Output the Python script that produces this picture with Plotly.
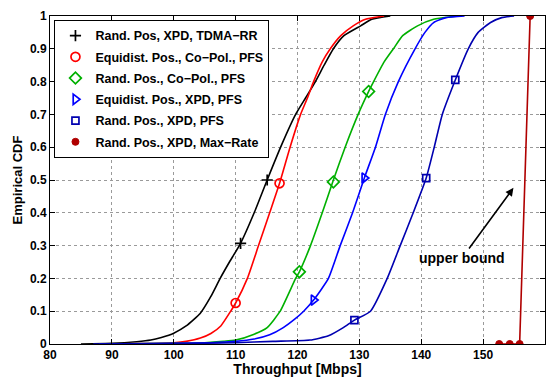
import plotly.graph_objects as go

# ---- data ----
black_x = [85, 90, 94, 96.3, 98, 100, 102, 104.3, 106, 107.5, 109, 110.8, 113, 115.1, 117.5, 119.7, 121.3, 122.9, 124.3, 125.8, 127.5, 130.2, 132, 135]
black_y = [0, 0.002, 0.007, 0.012, 0.02, 0.033, 0.055, 0.094, 0.145, 0.2, 0.25, 0.307, 0.4, 0.5, 0.61, 0.7, 0.75, 0.8, 0.85, 0.9, 0.94, 0.97, 0.99, 1]
black_mx = [110.8, 115.1]
black_my = [0.307, 0.5]

red_x = [88, 95, 100, 102, 104.3, 106, 107.6, 109.2, 110, 111.9, 113.7, 115.5, 117.1, 118.8, 120.5, 121.6, 122.6, 124, 125.3, 127, 129, 131, 134]
red_y = [0, 0.001, 0.004, 0.008, 0.018, 0.032, 0.055, 0.1, 0.125, 0.2, 0.3, 0.4, 0.49, 0.6, 0.7, 0.75, 0.8, 0.86, 0.9, 0.94, 0.97, 0.99, 1]
red_mx = [110.0, 117.1]
red_my = [0.125, 0.49]

green_x = [88, 100, 105, 108, 110, 113, 115.1, 117.2, 119.7, 120.3, 122.1, 124, 125.8, 127.7, 129.8, 131.5, 132.3, 134, 135.5, 137, 139.4, 142, 146]
green_y = [0, 0.002, 0.004, 0.008, 0.012, 0.03, 0.05, 0.1, 0.2, 0.22, 0.3, 0.4, 0.5, 0.6, 0.7, 0.77, 0.8, 0.86, 0.9, 0.94, 0.97, 0.99, 1]
green_mx = [120.3, 125.8, 131.5]
green_my = [0.22, 0.494, 0.77]

blue_x = [88, 100, 106, 110, 113, 115.5, 117.7, 119.5, 121, 122.6, 125, 126.9, 128.9, 130.8, 132.6, 134.2, 136.3, 139, 140.6, 142, 144, 147]
blue_y = [0, 0.002, 0.004, 0.008, 0.015, 0.028, 0.05, 0.075, 0.1, 0.134, 0.2, 0.3, 0.4, 0.506, 0.6, 0.7, 0.8, 0.9, 0.95, 0.98, 0.995, 1]
blue_mx = [122.6, 130.8]
blue_my = [0.134, 0.506]

dblue_x = [87, 100, 110, 116, 122, 125, 127.4, 129.2, 131.8, 134.5, 136.6, 138.7, 140.8, 142.1, 143.4, 145.5, 147.6, 149.2, 151.2, 153, 155]
dblue_y = [0, 0.001, 0.004, 0.008, 0.012, 0.025, 0.05, 0.073, 0.1, 0.2, 0.3, 0.4, 0.506, 0.6, 0.7, 0.805, 0.9, 0.95, 0.98, 0.995, 1]
dblue_mx = [129.2, 140.8, 145.5]
dblue_my = [0.073, 0.506, 0.805]

maxr_x = [152.6, 154.3, 155.9, 157.6]
maxr_y = [0, 0, 0, 1]

names = ["Rand. Pos, XPD, TDMA\u2212RR",
         "Equidist. Pos., Co\u2212Pol., PFS",
         "Rand. Pos., Co\u2212Pol., PFS",
         "Equidist. Pos., XPD, PFS",
         "Rand. Pos., XPD, PFS",
         "Rand. Pos., XPD, Max\u2212Rate"]

x_ticks = [80, 90, 100, 110, 120, 130, 140, 150, 160]
y_ticks = [0, 0.1, 0.2, 0.3, 0.4, 0.5, 0.6, 0.7, 0.8, 0.9, 1]
y_ticklabels = ["0", "0.1", "0.2", "0.3", "0.4", "0.5", "0.6", "0.7", "0.8", "0.9", "1"]

FONT = "Liberation Sans"

fig = go.Figure()

series = [
    (black_x, black_y, black_mx, black_my, "#000000", "cross-thin-open", 8),
    (red_x, red_y, red_mx, red_my, "#ff0000", "circle-open", 9),
    (green_x, green_y, green_mx, green_my, "#00b000", "diamond-open", 9),
    (blue_x, blue_y, blue_mx, blue_my, "#0000ff", "triangle-right-open", 9),
    (dblue_x, dblue_y, dblue_mx, dblue_my, "#0000b0", "square-open", 7),
]

for (lx, ly, mx, my, col, sym, sz), nm in zip(series, names):
    fig.add_trace(go.Scatter(x=lx, y=ly, mode="lines",
                             line=dict(color=col, width=1.6, shape="spline", smoothing=0.5),
                             showlegend=False, hoverinfo="skip"))
for i, ((lx, ly, mx, my, col, sym, sz), nm) in enumerate(zip(series, names)):
    fig.add_trace(go.Scatter(x=mx, y=my, mode="markers", name=nm, legendgroup=f"g{i}",
                             marker=dict(symbol=sym, size=sz, color=col,
                                         line=dict(color=col, width=1.7))))

fig.add_trace(go.Scatter(x=maxr_x, y=maxr_y, mode="lines", line=dict(color="#b00000", width=1.6),
                         showlegend=False, hoverinfo="skip"))
fig.add_trace(go.Scatter(x=maxr_x, y=maxr_y, mode="markers", name=names[5], legendgroup="g5",
                         marker=dict(symbol="circle", size=7, color="#b00000",
                                     line=dict(color="#b00000", width=1))))

fig.add_annotation(x=154.9, y=0.476, ax=146.6, ay=0.262, axref="x", ayref="y",
                   xref="x", yref="y", text="<b>upper bound</b>", showarrow=True,
                   arrowhead=2, arrowsize=1.0, arrowwidth=1.6, arrowcolor="#000000",
                   font=dict(family=FONT, size=14, color="#000000"))

axis_common = dict(showline=True, linecolor="#000000", linewidth=1, mirror="ticks",
                   ticks="inside", ticklen=5, tickcolor="#000000",
                   showgrid=True, gridcolor="#9a9a9a", griddash="dot", gridwidth=1,
                   zeroline=False, automargin=False,
                   tickfont=dict(family=FONT, size=12, color="#000000", weight="bold"))

fig.update_xaxes(range=[80, 160], tickvals=x_ticks, ticktext=[str(v) for v in x_ticks],
                 title=dict(text="Throughput [Mbps]", font=dict(family=FONT, size=14, color="#000000", weight="bold"), standoff=0),
                 **axis_common)
fig.update_yaxes(range=[0, 1], tickvals=y_ticks, ticktext=y_ticklabels,
                 title=dict(text="Empirical CDF", font=dict(family=FONT, size=13, color="#000000", weight="bold"), standoff=4),
                 **axis_common)

fig.update_layout(
    width=555, height=377,
    margin=dict(l=50, r=10, t=16, b=33, autoexpand=False),
    plot_bgcolor="#ffffff", paper_bgcolor="#ffffff",
    font=dict(family=FONT, color="#000000"),
    legend=dict(x=0.009, y=0.988, xanchor="left", yanchor="top",
                bgcolor="#ffffff", bordercolor="#000000", borderwidth=1,
                font=dict(family=FONT, size=12.5, color="#000000", weight="bold"),
                tracegroupgap=2, itemwidth=30),
)

fig.write_html("out.html")
